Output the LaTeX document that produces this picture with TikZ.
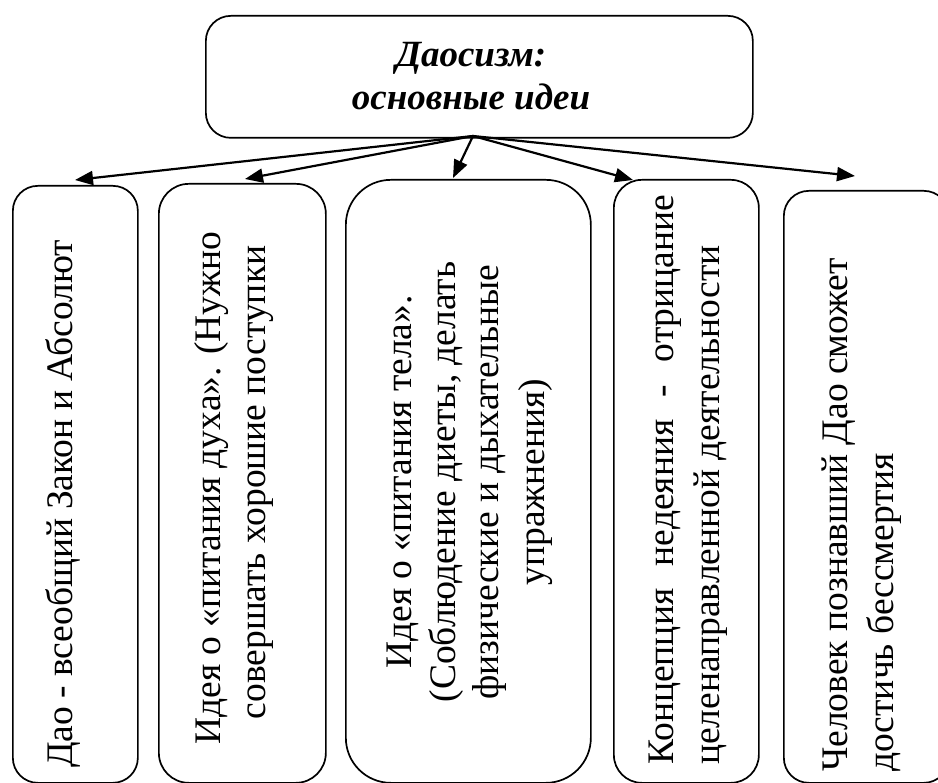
\documentclass[tikz,border=0pt]{standalone}
\usepackage{fontspec}
\setmainfont{Liberation Serif}
\usetikzlibrary{arrows.meta}
\begin{document}
\begin{tikzpicture}[x=1pt,y=-1pt,
  box/.style={draw, line width=1.7pt, rounded corners=#1, inner sep=0pt, anchor=north west},
  txt/.style={rotate=90, inner sep=0pt, font=\fontsize{37.5}{44}\selectfont},
  ttl/.style={inner sep=0pt, anchor=base, font=\fontsize{37}{44}\selectfont\bfseries\itshape},
  arr/.style={line width=2.2pt, -{Triangle[length=18pt,width=14pt]}}]
\useasboundingbox (0,0) rectangle (938,783);
\clip (0,0) rectangle (938,783);
% title box
\node[box=25pt, minimum width=547pt, minimum height=122pt] (top) at (205,15) {};
\node[ttl] (t1) at (471,67) {Даосизм:};
\node[ttl] (t2) at (471,110) {основные идеи};
% boxes
\node[box=25pt, minimum width=125pt, minimum height=597pt] (b1) at (12,185) {};
\node[box=30pt, minimum width=167pt, minimum height=599pt] (b2) at (158,183) {};
\node[box=45pt, minimum width=245pt, minimum height=603pt] (b3) at (345,179) {};
\node[box=28pt, minimum width=145pt, minimum height=603pt] (b4) at (613,179) {};
\node[box=25pt, minimum width=165pt, minimum height=592pt] (b5) at (783,190) {};
% texts
\node[txt, anchor=base west] (l1) at (72,768) {\makebox[528pt][s]{Дао - всеобщий Закон и Абсолют}};
\node[txt, anchor=base] (l2a) at (220,488.5) {Идея о «питания духа». (Нужно};
\node[txt, anchor=base] (l2b) at (265,482.5) {совершать хорошие поступки};
\node[txt, anchor=base] (l3a) at (411,482) {Идея о «питания тела».};
\node[txt, anchor=base] (l3b) at (455,482) {(Соблюдение диеты, делать};
\node[txt, anchor=base] (l3c) at (498,482) {физические и дыхательные};
\node[txt, anchor=base] (l3d) at (544,482) {упражнения)};
\node[txt, anchor=base west] (l4a) at (673,765) {\makebox[570pt][s]{Концепция недеяния - отрицание}};
\node[txt, anchor=base west] (l4b) at (719,765) {целенаправленной деятельности};
\node[txt, anchor=base west] (l5a) at (847,772) {Человек познавший Дао сможет};
\node[txt, anchor=base west] (l5b) at (893,772) {достичь бессмертия};
% arrows
\coordinate (src) at (473,136);
\coordinate (a1) at (75,180);
\coordinate (a2) at (245,179);
\coordinate (a3) at (453,178);
\coordinate (a4) at (633,180);
\coordinate (a5) at (855,176);
\foreach \t in {a1,a2,a3,a4,a5} \draw[arr] (src) -- (\t);
\end{tikzpicture}
\end{document}
